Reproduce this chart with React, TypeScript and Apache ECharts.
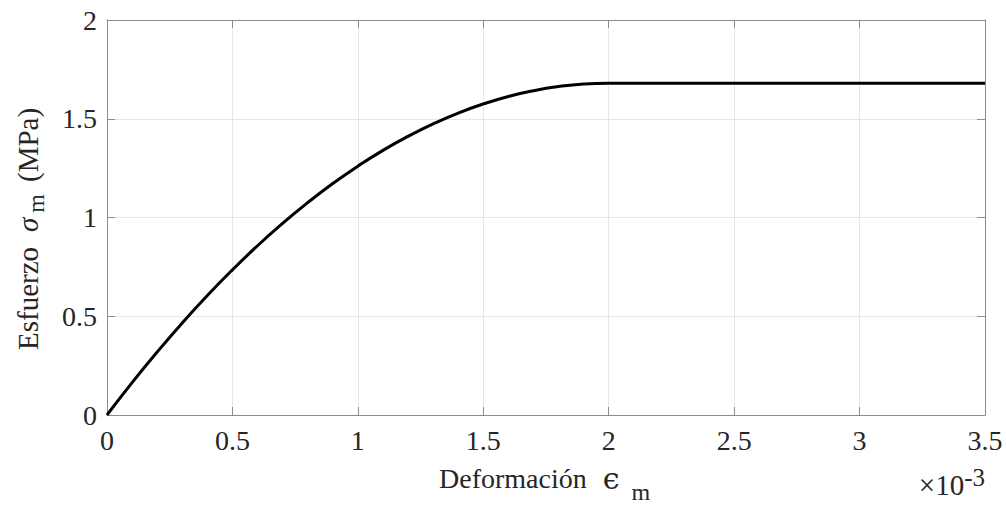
import React, { useEffect, useRef } from "react";
import * as echarts from "echarts";

const strainTicks = ["0", "0.5", "1", "1.5", "2", "2.5", "3", "3.5"];
const strain = [0, 0.1, 0.2, 0.3, 0.4, 0.5, 0.6, 0.7, 0.8, 0.9, 1.0, 1.1, 1.2, 1.3, 1.4, 1.5, 1.6, 1.7, 1.8, 1.9, 2.0, 3.5];
const stress = [0, 0.164, 0.319, 0.466, 0.605, 0.735, 0.857, 0.97, 1.075, 1.172, 1.26, 1.34, 1.411, 1.474, 1.529, 1.575, 1.613, 1.642, 1.663, 1.676, 1.68, 1.68];
const stressTicks = ["0", "0.5", "1", "1.5", "2"];

const FONT = "'Liberation Serif', 'Times New Roman', serif";
const GREEK_FONT = "'DejaVu Serif', 'Liberation Serif', serif";
const AXIS_COLOR = "#8c8c8c";
const TEXT_COLOR = "#262626";

export default function App() {
  const ref = useRef<HTMLDivElement>(null);
  useEffect(() => {
    if (!ref.current) return;
    const chart = echarts.init(ref.current, undefined, { renderer: "svg" });
    const data = strain.map((x, i) => [x, stress[i]]);
    const baseX = {
      type: "value" as const,
      min: 0,
      max: 3.5,
      interval: 0.5,
      axisLine: { onZero: false, lineStyle: { color: AXIS_COLOR, width: 1 } },
      axisTick: { inside: true, length: 8, lineStyle: { color: AXIS_COLOR } },
    };
    const baseY = {
      type: "value" as const,
      min: 0,
      max: 2,
      interval: 0.5,
      axisLine: { onZero: false, lineStyle: { color: AXIS_COLOR, width: 1 } },
      axisTick: { inside: true, length: 8, lineStyle: { color: AXIS_COLOR } },
    };
    chart.setOption({
      animation: false,
      backgroundColor: "#ffffff",
      grid: { left: 107, right: 21, top: 20, bottom: 90, containLabel: false },
      xAxis: [
        {
          ...baseX,
          position: "bottom",
          splitLine: { show: true, lineStyle: { color: "#e6e6e6", width: 1 } },
          axisLabel: {
            fontFamily: FONT,
            fontSize: 28,
            color: TEXT_COLOR,
            margin: 11,
            formatter: (v: number) => strainTicks[Math.round(v / 0.5)] ?? String(v),
          },
        },
        {
          ...baseX,
          position: "top",
          splitLine: { show: false },
          axisLabel: { show: false },
        },
      ],
      yAxis: [
        {
          ...baseY,
          position: "left",
          splitLine: { show: true, lineStyle: { color: "#e6e6e6", width: 1 } },
          axisLabel: {
            fontFamily: FONT,
            fontSize: 28,
            color: TEXT_COLOR,
            margin: 10,
            formatter: (v: number) => stressTicks[Math.round(v / 0.5)] ?? String(v),
          },
        },
        {
          ...baseY,
          position: "right",
          splitLine: { show: false },
          axisLabel: { show: false },
        },
      ],
      series: [
        {
          type: "line",
          xAxisIndex: 0,
          yAxisIndex: 0,
          data,
          showSymbol: false,
          smooth: 0.5,
          lineStyle: { color: "#000000", width: 3 },
        },
      ],
      graphic: [
        {
          type: "text",
          x: 439,
          y: 478.5,
          style: {
            text: "{a|Deformación}{e|ϵ}{s|m}",
            align: "left",
            verticalAlign: "middle",
            fill: TEXT_COLOR,
            rich: {
              a: { fontFamily: FONT, fontSize: 28, lineHeight: 50, fill: TEXT_COLOR },
              e: { fontFamily: GREEK_FONT, fontSize: 30, lineHeight: 50, padding: [0, 0, 0, 16], fill: TEXT_COLOR },
              s: { fontFamily: FONT, fontSize: 24, lineHeight: 6, padding: [0, 0, 0, 12], verticalAlign: "bottom", fill: TEXT_COLOR },
            },
          },
        },
        {
          type: "text",
          x: 28,
          y: 350,
          rotation: Math.PI / 2,
          style: {
            text: "{a|Esfuerzo}{i|σ}{s|m}{b|(MPa)}",
            align: "left",
            verticalAlign: "middle",
            fill: TEXT_COLOR,
            rich: {
              a: { fontFamily: FONT, fontSize: 29, lineHeight: 40, fill: TEXT_COLOR },
              i: { fontFamily: FONT, fontSize: 29, fontStyle: "italic", lineHeight: 40, padding: [0, 0, 0, 15], fill: TEXT_COLOR },
              s: { fontFamily: FONT, fontSize: 24, lineHeight: 10, padding: [0, 0, 0, 5], verticalAlign: "bottom", fill: TEXT_COLOR },
              b: { fontFamily: FONT, fontSize: 29, lineHeight: 40, padding: [0, 0, 0, 12], fill: TEXT_COLOR },
            },
          },
        },
        {
          type: "text",
          x: 985,
          y: 485,
          style: {
            text: "{a|×10}{p|-3}",
            align: "right",
            verticalAlign: "middle",
            fill: TEXT_COLOR,
            rich: {
              a: { fontFamily: FONT, fontSize: 29, lineHeight: 40, fill: TEXT_COLOR },
              p: { fontFamily: FONT, fontSize: 25, lineHeight: 19, verticalAlign: "top", fill: TEXT_COLOR },
            },
          },
        },
      ],
    });
    return () => chart.dispose();
  }, []);
  return (
    <div
      ref={ref}
      style={{ position: "fixed", left: 0, top: 0, width: 1006, height: 505, background: "#fff" }}
    />
  );
}
